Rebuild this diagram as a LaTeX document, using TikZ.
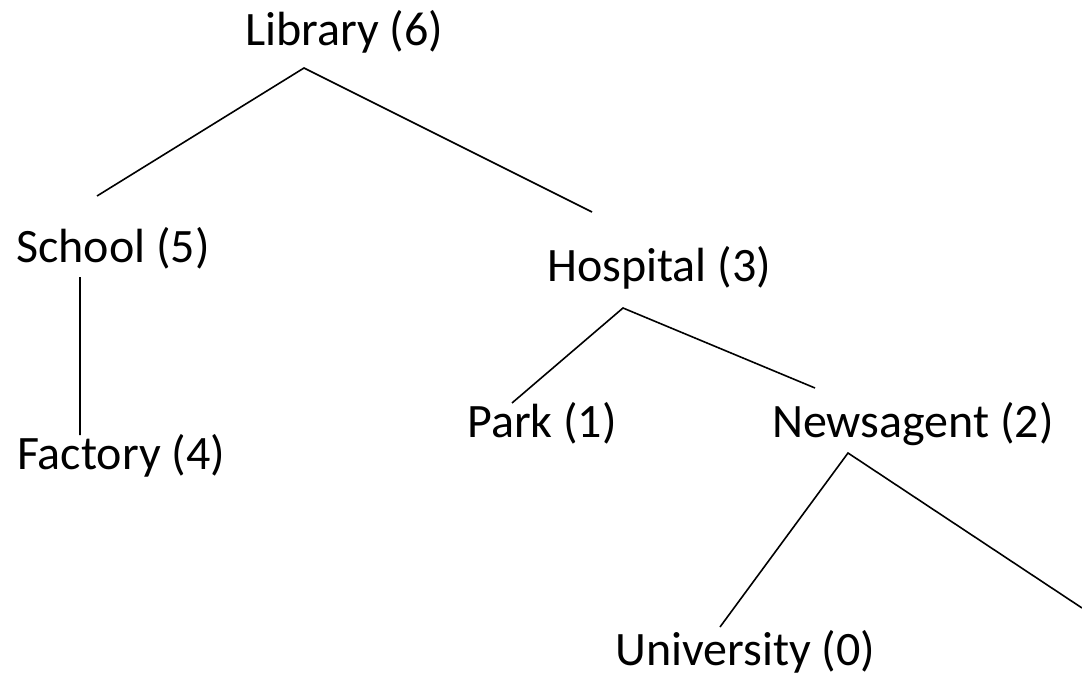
\documentclass[tikz,border=0pt]{standalone}
\usepackage{fontspec}
\setmainfont{Carlito}
\usepackage{tikz}
\usetikzlibrary{positioning}

\newcommand{\treefont}{\fontsize{48}{57}\selectfont}

\begin{document}
\begin{tikzpicture}[x=1pt,y=-1pt,
        every node/.style={anchor=base west,inner sep=0pt,font=\treefont},
        link/.style={line width=1.6pt}]
                \useasboundingbox (0,0) rectangle (1082,677);
                \node (library)    at (245,46)  {Library (6)};
                \node (school)     at (16,262)  {School (5)};
                \node (hospital)   at (547,281) {Hospital (3)};
                \node (factory)    at (17,469)  {Factory (4)};
                \node (park)       at (467,437) {Park (1)};
                \node (newsagent)  at (772,437) {Newsagent (2)};
                \node (university) at (615,665) {University (0)};
                \coordinate (offright) at (1082,608);
                \path[link,draw]
                ([xshift=81pt,yshift=66pt]school.base west) -- ([xshift=59pt,yshift=-22pt]library.base west)
                    -- ([xshift=45pt,yshift=69pt]hospital.base west)
                ([xshift=64pt,yshift=-15pt]school.base west) -- ([xshift=63pt,yshift=34pt]factory.base west)
                ([xshift=45pt,yshift=34pt]park.base west) -- ([xshift=76pt,yshift=-27pt]hospital.base west)
                    -- ([xshift=43pt,yshift=49pt]newsagent.base west)
                ([xshift=105pt,yshift=38pt]university.base west) -- ([xshift=76pt,yshift=-16pt]newsagent.base west)
                    -- (offright);
            \end{tikzpicture}
\end{document}
